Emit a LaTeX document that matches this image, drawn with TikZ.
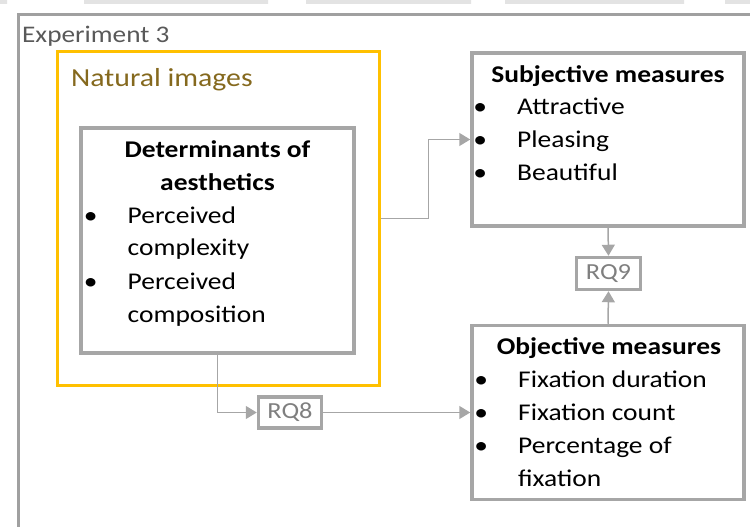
\documentclass[tikz,border=0pt]{standalone}
\usepackage{fontspec}
\setmainfont{Carlito}[FakeStretch=1.145]
\usetikzlibrary{arrows.meta}
\definecolor{boxgray}{HTML}{A6A6A6}
\definecolor{framegray}{HTML}{A0A0A0}
\definecolor{natframe}{HTML}{FFC000}
\definecolor{nattext}{HTML}{85691E}
\definecolor{labelgray}{HTML}{595959}
\definecolor{rqgray}{HTML}{7F7F7F}
\definecolor{stripgray}{HTML}{E3E3E3}
\newcommand\bul{\llap{\makebox[74pt]{\textbullet}}}
\begin{document}
\begin{tikzpicture}[x=1pt,y=-1pt,
  panel/.style={draw=boxgray, line width=3.5pt, fill=white, inner sep=0pt},
  natpanel/.style={draw=natframe, line width=3.5pt, inner sep=0pt},
  rqbox/.style={draw=boxgray, line width=3.5pt, fill=white, inner sep=0pt,
    font=\fontsize{23}{28}\selectfont, text=rqgray},
  conn/.style={draw=boxgray, line width=1.5pt,
    -{Triangle[length=11pt,width=13pt]}},
  line/.style={anchor=base west, inner sep=0pt, font=\fontsize{24}{28}\selectfont},
  head/.style={anchor=base, inner sep=0pt, font=\fontsize{24}{28}\selectfont\bfseries}]
\useasboundingbox (0,0) rectangle (750,527);

% faint strip along the top edge and the experiment frame, cut at the page edge
\begin{scope}
  \clip (0,0) rectangle (750,527);
  \fill[stripgray] (0,0) rectangle (7,4) (84,0) rectangle (268,4)
    (306,0) rectangle (471,4) (505,0) rectangle (684,4) (725,0) rectangle (750,4);
  \draw[framegray, line width=3pt] (18.5,14.5) rectangle (780,560);
\end{scope}
\node[anchor=base west, inner sep=0pt, text=labelgray,
  font=\fontsize{23.8}{28}\selectfont] (exp) at (22,43) {Experiment 3};

% boxes
\node[natpanel, minimum width=322pt, minimum height=334pt] (nat) at (218.5,218.5) {};
\node[panel, minimum width=273pt, minimum height=225pt] (det) at (217.5,240.5) {};
\node[panel, minimum width=272pt, minimum height=173pt] (subj) at (608,139.5) {};
\node[panel, minimum width=272pt, minimum height=174pt] (obj) at (608,412.5) {};
\node[rqbox, minimum width=64pt, minimum height=32pt] (rq9) at (608.5,273.5) {RQ9};
\node[rqbox, minimum width=63pt, minimum height=31pt] (rq8) at (290,412.5) {RQ8};

% texts
\node[anchor=base west, inner sep=0pt, text=nattext,
  font=\fontsize{26}{30}\selectfont] (natlbl) at (71,87) {Natural images};

\node[head] (dett1) at (217.5,157) {Determinants of};
\node[head] (dett2) at (217.5,190) {aesthetics};
\node[line] (det1) at (127.5,223) {\bul Perceived};
\node[line] (det1b) at (127.5,255) {complexity};
\node[line] (det2) at (127.5,289) {\bul Perceived};
\node[line] (det2b) at (127.5,322) {composition};

\node[head] (subjt) at (608,82) {Subjective measures};
\node[line] (subj1) at (517,114) {\bul Attractive};
\node[line] (subj2) at (517,147) {\bul Pleasing};
\node[line] (subj3) at (517,180) {\bul Beautiful};

\node[head] (objt) at (609,354) {Objective measures};
\node[line] (obj1) at (518,387) {\bul Fixation duration};
\node[line] (obj2) at (518,420) {\bul Fixation count};
\node[line] (obj3) at (518,453) {\bul Percentage of};
\node[line] (obj3b) at (518,486) {fixation};

% connectors
\draw[conn] (nat.east) -- ++(47,0) |- (subj.west);
\draw[conn] (det.south) |- (rq8.west);
\draw[conn] (rq8.east) -- (obj.west);
\draw[conn] (subj.south) -- (rq9.north);
\draw[conn] (obj.north) -- (rq9.south);
\end{tikzpicture}
\end{document}
